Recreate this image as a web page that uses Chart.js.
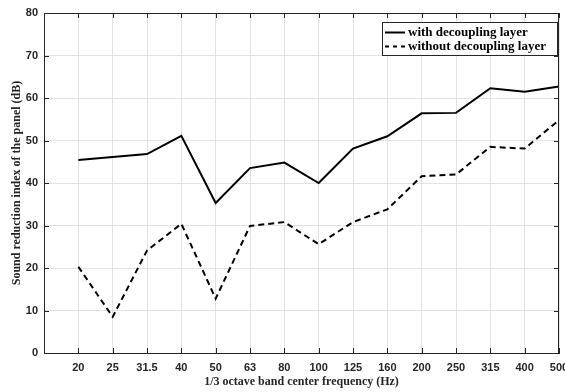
<!DOCTYPE html>
<html>
<head>
<meta charset="utf-8">
<script src="https://cdn.jsdelivr.net/npm/chart.js@4.4.1/dist/chart.umd.min.js"></script>
<style>
  html, body { margin: 0; padding: 0; background: #fff; }
  #wrap { width: 565px; height: 392px; }
</style>
</head>
<body>
<div id="wrap"><canvas id="myChart" width="565" height="392"></canvas></div>
<script>
// 1/3 octave bands (Hz)
var bands = ['20', '25', '31.5', '40', '50', '63', '80', '100', '125', '160', '200', '250', '315', '400', '500'];
var withLayer = [45.4, 46.1, 46.8, 51.1, 35.3, 43.5, 44.8, 40.0, 48.1, 51.0, 56.4, 56.5, 62.3, 61.5, 62.7];
var withoutLayer = [20.3, 8.5, 24.1, 30.4, 12.8, 29.9, 30.8, 25.6, 30.8, 33.8, 41.6, 42.0, 48.5, 48.1, 54.8];
var yTicks = [0, 10, 20, 30, 40, 50, 60, 70, 80];

var axisColor = '#262626';
var gridColor = '#e3e3e3';

function toPoints(arr) {
    return arr.map(function (v, i) { return { x: i + 1, y: v }; });
}

// box, inward ticks on all four sides, legend inside the plot
var boxPlugin = {
    id: 'boxPlugin',
    afterDraw: function (chart) {
        var ctx = chart.ctx;
        var a = chart.chartArea;
        var xs = chart.scales.x, ys = chart.scales.y;
        ctx.save();
        ctx.strokeStyle = axisColor;
        ctx.lineWidth = 1;
        ctx.beginPath();
        for (var i = 1; i <= bands.length; i++) {
            var px = Math.round(xs.getPixelForValue(i)) + 0.5;
            ctx.moveTo(px, a.bottom); ctx.lineTo(px, a.bottom - 5);
            ctx.moveTo(px, a.top); ctx.lineTo(px, a.top + 5);
        }
        yTicks.forEach(function (v) {
            var py = Math.round(ys.getPixelForValue(v)) + 0.5;
            ctx.moveTo(a.left, py); ctx.lineTo(a.left + 5, py);
            ctx.moveTo(a.right, py); ctx.lineTo(a.right - 5, py);
        });
        ctx.stroke();
        ctx.strokeRect(Math.round(a.left) + 0.5, Math.round(a.top) + 0.5,
            Math.round(a.right - a.left) - 1, Math.round(a.bottom - a.top));

        // legend
        var lx = 382, ly = 22, lw = 175, lh = 33;
        ctx.fillStyle = '#fff';
        ctx.fillRect(lx, ly, lw, lh);
        ctx.strokeStyle = axisColor;
        ctx.strokeRect(lx + 0.5, ly + 0.5, lw, lh);
        ctx.font = 'bold 13px "Liberation Serif", "Times New Roman", serif';
        ctx.textBaseline = 'middle';
        chart.data.datasets.forEach(function (ds, k) {
            var yy = ly + 10.5 + k * 14;
            ctx.strokeStyle = ds.borderColor;
            ctx.lineWidth = 2;
            ctx.setLineDash(k === 0 ? [] : [4, 4]);
            ctx.beginPath();
            ctx.moveTo(lx + 3, yy); ctx.lineTo(lx + 23, yy);
            ctx.stroke();
            ctx.setLineDash([]);
            ctx.fillStyle = '#000';
            ctx.fillText(ds.label, lx + 26, yy);
        });
        ctx.restore();
    }
};

var ctx = document.getElementById('myChart');
var chart = new Chart(ctx, {
    type: 'line',
    data: {
        datasets: [{
            label: 'with decoupling layer',
            data: toPoints(withLayer),
            borderColor: '#000',
            borderWidth: 2,
            pointRadius: 0,
            fill: false,
            tension: 0
        }, {
            label: 'without decoupling layer',
            data: toPoints(withoutLayer),
            borderColor: '#000',
            borderWidth: 2,
            borderDash: [6, 4],
            pointRadius: 0,
            fill: false,
            tension: 0
        }]
    },
    options: {
        responsive: false,
        animation: false,
        layout: { padding: { top: 13, right: 6, left: 0, bottom: 0 } },
        plugins: {
            legend: { display: false },
            tooltip: { enabled: false }
        },
        scales: {
            x: {
                type: 'linear',
                min: 0,
                max: 15,
                afterBuildTicks: function (scale) {
                    var t = [];
                    for (var i = 0; i <= 15; i++) t.push({ value: i });
                    scale.ticks = t;
                },
                afterFit: function (scale) {
                    scale.height = 39;
                    scale.paddingLeft = 0;
                    scale.paddingRight = 0;
                },
                grid: { color: gridColor, drawTicks: false },
                border: { color: axisColor },
                ticks: {
                    autoSkip: false,
                    maxRotation: 0,
                    padding: 8,
                    color: axisColor,
                    font: { family: '"Liberation Sans", Arial, sans-serif', size: 11, weight: 'bold' },
                    callback: function (v) { return v >= 1 ? bands[v - 1] : ''; }
                },
                title: {
                    display: true,
                    text: '1/3 octave band center frequency (Hz)',
                    color: axisColor,
                    padding: { top: 0, bottom: 3 },
                    font: { family: '"Liberation Serif", "Times New Roman", serif', size: 12, weight: 'bold' }
                }
            },
            y: {
                min: 0,
                max: 80,
                afterBuildTicks: function (scale) {
                    scale.ticks = yTicks.map(function (v) { return { value: v }; });
                },
                afterFit: function (scale) {
                    scale.width = 44;
                    scale.paddingTop = 0;
                    scale.paddingBottom = 0;
                },
                grid: { color: gridColor, drawTicks: false },
                border: { color: axisColor },
                ticks: {
                    padding: 6,
                    color: axisColor,
                    font: { family: '"Liberation Sans", Arial, sans-serif', size: 11, weight: 'bold' }
                },
                title: {
                    display: true,
                    text: 'Sound reduction index of the panel (dB)',
                    color: axisColor,
                    padding: { top: 10, bottom: 0 },
                    font: { family: '"Liberation Serif", "Times New Roman", serif', size: 12, weight: 'bold' }
                }
            }
        }
    },
    plugins: [boxPlugin]
});
</script>
</body>
</html>
